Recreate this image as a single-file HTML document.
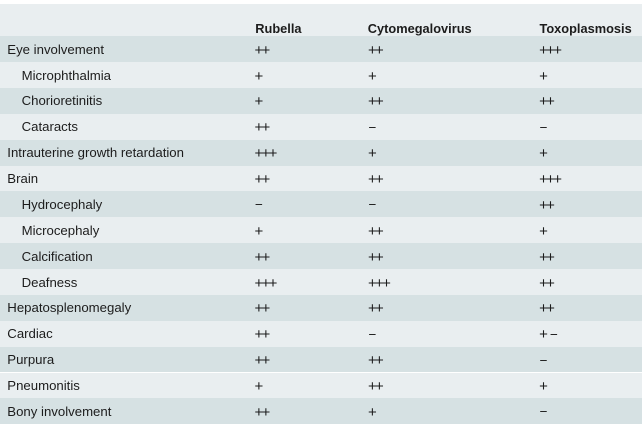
<!DOCTYPE html>
<html>
<head>
<meta charset="utf-8">
<style>
  html,body{margin:0;padding:0;background:#ffffff;}
  body{width:643px;height:431px;position:relative;overflow:hidden;
       font-family:"Liberation Sans", Arial, sans-serif;color:#1c1c1c;}
  .hdr{position:absolute;left:0;top:4px;width:642px;height:32px;background:#e9eef0;}
  .hdr span{position:absolute;top:16.5px;line-height:16px;font-size:12.8px;font-weight:bold;white-space:nowrap;}
  .row{position:absolute;left:0;width:642px;height:25.87px;}
  .d{background:#d6e1e3;}
  .l{background:#e9eef0;}
  .row span{position:absolute;top:0.5px;line-height:25.87px;font-size:13.2px;white-space:nowrap;}
  .row .p{font-size:15px;letter-spacing:-1.7px;top:1.5px;margin-left:-0.5px;}
  .row .m{font-size:13.5px;top:1px;}
  .c0{left:7.3px;}
  .ci{left:21.6px;}
  .c1{left:255px;}
  .c2{left:368.5px;}
  .c3{left:539.6px;}
</style>
</head>
<body>
<div class="hdr">
  <span style="left:255.3px">Rubella</span>
  <span style="left:367.8px">Cytomegalovirus</span>
  <span style="left:539.5px">Toxoplasmosis</span>
</div>

<div class="row d" style="top:36.2px"><span class="c0">Eye involvement</span><span class="c1 p">++</span><span class="c2 p">++</span><span class="c3 p">+++</span></div>
<div class="row l" style="top:62.07px"><span class="ci">Microphthalmia</span><span class="c1 p">+</span><span class="c2 p">+</span><span class="c3 p">+</span></div>
<div class="row d" style="top:87.94px"><span class="ci">Chorioretinitis</span><span class="c1 p">+</span><span class="c2 p">++</span><span class="c3 p">++</span></div>
<div class="row l" style="top:113.81px"><span class="ci">Cataracts</span><span class="c1 p">++</span><span class="c2 m">−</span><span class="c3 m">−</span></div>
<div class="row d" style="top:139.68px"><span class="c0">Intrauterine growth retardation</span><span class="c1 p">+++</span><span class="c2 p">+</span><span class="c3 p">+</span></div>
<div class="row l" style="top:165.55px"><span class="c0">Brain</span><span class="c1 p">++</span><span class="c2 p">++</span><span class="c3 p">+++</span></div>
<div class="row d" style="top:191.42px"><span class="ci">Hydrocephaly</span><span class="c1 m">−</span><span class="c2 m">−</span><span class="c3 p">++</span></div>
<div class="row l" style="top:217.29px"><span class="ci">Microcephaly</span><span class="c1 p">+</span><span class="c2 p">++</span><span class="c3 p">+</span></div>
<div class="row d" style="top:243.16px"><span class="ci">Calcification</span><span class="c1 p">++</span><span class="c2 p">++</span><span class="c3 p">++</span></div>
<div class="row l" style="top:269.03px"><span class="ci">Deafness</span><span class="c1 p">+++</span><span class="c2 p">+++</span><span class="c3 p">++</span></div>
<div class="row d" style="top:294.9px"><span class="c0">Hepatosplenomegaly</span><span class="c1 p">++</span><span class="c2 p">++</span><span class="c3 p">++</span></div>
<div class="row l" style="top:320.77px"><span class="c0">Cardiac</span><span class="c1 p">++</span><span class="c2 m">−</span><span class="c3 p">+</span><span class="m" style="left:550px">−</span></div>
<div class="row d" style="top:346.64px"><span class="c0">Purpura</span><span class="c1 p">++</span><span class="c2 p">++</span><span class="c3 m">−</span></div>
<div class="row l" style="top:372.51px"><span class="c0">Pneumonitis</span><span class="c1 p">+</span><span class="c2 p">++</span><span class="c3 p">+</span></div>
<div class="row d" style="top:398.38px"><span class="c0">Bony involvement</span><span class="c1 p">++</span><span class="c2 p">+</span><span class="c3 m">−</span></div>
</body>
</html>
